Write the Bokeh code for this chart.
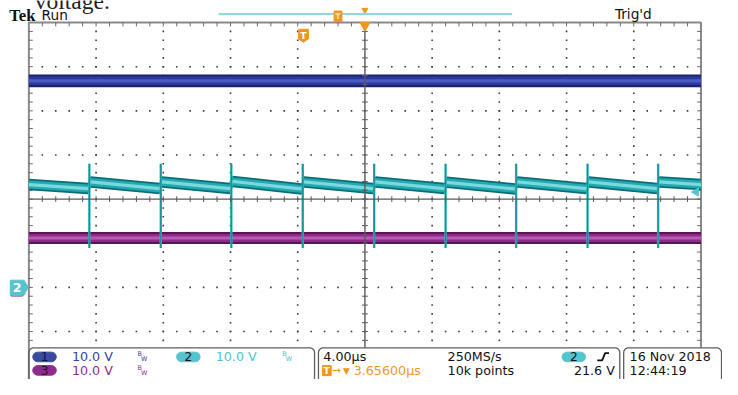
import numpy as np
from bokeh.plotting import figure
from bokeh.models import Range1d
from bokeh.core.properties import value
from bokeh.embed import file_html
from bokeh.resources import INLINE

# ---------------- data ----------------
time_per_div_us = 4.0
volts_per_div = 10.0
h_divs = 10
v_divs = 8
trigger_offset_us = 3.656          # "T -> 3.65600us"
trigger_level_v = 21.6

# CH2 (cyan): switching spikes + sawtooth ripple (volts)
ch2_ground_div = -2.0
ch2_spike_t_us = [-16.40, -12.15, -7.95, -3.70, 0.55, 4.80, 9.00, 13.25, 17.45]
ch2_after_v = [23.9, 23.9, 24.0, 23.9, 23.9, 23.8, 23.9, 23.9, 23.9]
ch2_before_v = [22.4, 22.4, 22.4, 22.3, 22.4, 22.4, 22.3, 22.4, 22.4]
ch2_left_edge_v = 23.3
ch2_right_edge_v = 23.3
ch2_spike_top_v = 28.0
ch2_spike_bottom_v = 8.9
ch2_half_band_v = 1.3

# CH1 (blue) and CH3 (purple): flat noisy bands (screen divisions)
ch1_level_div = 2.68
ch1_half_band_div = 0.145
ch3_level_div = -0.88
ch3_half_band_div = 0.135

# readouts
ch_scale_labels = ["10.0 V", "10.0 V", "10.0 V"]
timebase_label = "4.00µs"
sample_rate_label = "250MS/s"
record_label = "10k points"
trig_level_label = "21.6 V"
date_label = "16 Nov 2018"
time_label = "12:44:19"

# ---------------- layout helpers (screen pixel -> data) ----------------
W, H = 722, 379
IMG_W, IMG_H = 738, 395
GX_C = 372.5                 # graticule centre x (px)
PX_US = 68.7 / time_per_div_us
GY_C = 207.0                 # graticule centre y (px)
PX_DIV = 46.0
FS = W / IMG_W


def X(px):
    return (px - GX_C) / PX_US


def Y(py):
    return (GY_C - py) / PX_DIV


def v2d(v):
    return ch2_ground_div + v / volts_per_div


p = figure(width=W, height=H, x_range=Range1d(X(0), X(IMG_W)), y_range=Range1d(Y(IMG_H), Y(0)),
           output_backend="svg", toolbar_location=None, x_axis_type=None, y_axis_type=None,
           min_border=0, title=None, outline_line_color=None,
           background_fill_color="white", border_fill_color="white")


def txt(px, py, s, color, size, font="DejaVu Sans", style="normal", align="left"):
    # py is the visual vertical centre of the text
    p.text(x=[X(px)], y=[Y(py)], text=[s], text_color=color, text_font=value(font),
           text_font_size=value(f"{size * FS:.1f}px"), text_font_style=style,
           text_align=align, text_baseline="middle")


def stadium(x0, x1, y0, y1, n=10):
    r = (y1 - y0) / 2.0
    yc = (y0 + y1) / 2.0
    a1 = np.linspace(-np.pi / 2, np.pi / 2, n)
    a2 = np.linspace(np.pi / 2, 3 * np.pi / 2, n)
    xs = np.concatenate([x1 - r + r * np.cos(a1), x0 + r + r * np.cos(a2)])
    ys = np.concatenate([yc + r * np.sin(a1), yc + r * np.sin(a2)])
    return [X(v) for v in xs], [Y(v) for v in ys]


def panel(xl, xr, ytop, r=5, n=8):
    a1 = np.linspace(np.pi, 1.5 * np.pi, n)
    a2 = np.linspace(1.5 * np.pi, 2 * np.pi, n)
    xs = [xl] + list(xl + r + r * np.cos(a1)) + list(xr - r + r * np.cos(a2)) + [xr]
    ys = [IMG_H + 2] + list(ytop + r + r * np.sin(a1)) + list(ytop + r + r * np.sin(a2)) + [IMG_H + 2]
    p.line([X(v) for v in xs], [Y(v) for v in ys], line_color="#5f5f5f", line_width=1.3)


half_t = h_divs / 2 * time_per_div_us
top_d = v_divs / 2
bot_d = Y(362)
minor_t = time_per_div_us / 5
minor_d = 0.2

# ---------------- graticule dots ----------------
dx, dy = [], []
for k in range(-h_divs // 2 + 1, h_divs // 2):
    if k == 0:
        continue
    for j in range(-20, 20):
        yy = j * minor_d
        if yy > bot_d:
            dx.append(k * time_per_div_us)
            dy.append(yy)
for m in range(-v_divs // 2 + 1, v_divs // 2):
    if m == 0:
        continue
    for i in range(-24, 25):
        dx.append(i * minor_t)
        dy.append(m)
p.scatter(dx, dy, marker="square", size=1.6, fill_color="#3a3a3a", line_color=None)

# border + border ticks
p.line([-half_t, -half_t, half_t, half_t], [Y(IMG_H + 2), top_d, top_d, bot_d],
       line_color="#8a8a8a", line_width=2)
tl = 4.0
tx0, ty0, tx1, ty1 = [], [], [], []
for i in range(-24, 25):
    tx0.append(i * minor_t); ty0.append(top_d); tx1.append(i * minor_t); ty1.append(top_d - tl / PX_DIV)
for j in range(-16, 20):
    yy = j * minor_d
    tx0.append(-half_t); ty0.append(yy); tx1.append(-half_t + tl / PX_US); ty1.append(yy)
    tx0.append(half_t); ty0.append(yy); tx1.append(half_t - tl / PX_US); ty1.append(yy)
p.segment(tx0, ty0, tx1, ty1, line_color="#6a6a6a", line_width=1)

# ---------------- traces ----------------
# CH3 purple band
for hw, col in [(1.0, "#5e1158"), (0.66, "#8e2b88"), (0.25, "#b85cb1")]:
    p.varea(x=[-half_t, half_t], y1=[ch3_level_div - ch3_half_band_div * hw] * 2,
            y2=[ch3_level_div + ch3_half_band_div * hw] * 2, fill_color=col)
# CH1 blue band
for hw, col in [(1.0, "#1a2374"), (0.66, "#2d3b98"), (0.25, "#4a5ec0")]:
    p.varea(x=[-half_t, half_t], y1=[ch1_level_div - ch1_half_band_div * hw] * 2,
            y2=[ch1_level_div + ch1_half_band_div * hw] * 2, fill_color=col)

# CH2 sawtooth
d = 0.08
ts = [-half_t]
vs = [ch2_left_edge_v]
for i, s in enumerate(ch2_spike_t_us):
    ts += [s - d, s + d]
    vs += [ch2_before_v[i], ch2_after_v[i]]
ts += [half_t]
vs += [ch2_right_edge_v]
vs = np.array(vs)
for hw, col in [(1.0, "#0b6d73"), (0.7, "#23a9b1"), (0.28, "#7bd8dc")]:
    p.varea(x=ts, y1=list(v2d(vs - ch2_half_band_v * hw)), y2=list(v2d(vs + ch2_half_band_v * hw)),
            fill_color=col)
n_sp = len(ch2_spike_t_us)
p.segment(ch2_spike_t_us, [v2d(ch2_spike_bottom_v)] * n_sp, ch2_spike_t_us, [v2d(ch2_spike_top_v)] * n_sp,
          line_color="#2db4bb", line_width=2.4)
p.segment(ch2_spike_t_us, [v2d(ch2_spike_bottom_v)] * n_sp, ch2_spike_t_us, [v2d(ch2_spike_top_v)] * n_sp,
          line_color="#0f7d83", line_width=0.8)

# ---------------- centre cross ----------------
p.line([-half_t, half_t], [0, 0], line_color="#5a5a5a", line_width=1.4)
p.line([0, 0], [bot_d, top_d], line_color="#5a5a5a", line_width=1.4)
cx0, cy0, cx1, cy1 = [], [], [], []
ct = 3.0
for i in range(-24, 25):
    cx0.append(i * minor_t); cy0.append(-ct / PX_DIV); cx1.append(i * minor_t); cy1.append(ct / PX_DIV)
for j in range(-16, 20):
    cx0.append(-ct / PX_US); cy0.append(j * minor_d); cx1.append(ct / PX_US); cy1.append(j * minor_d)
p.segment(cx0, cy0, cx1, cy1, line_color="#5a5a5a", line_width=1)

# ---------------- markers ----------------
ORANGE = "#f0961e"
CYAN = "#55c4ce"
# trigger level marker (right edge)
p.scatter([X(711)], [v2d(trigger_level_v)], marker="triangle", angle=np.pi / 2, size=8,
          fill_color=CYAN, line_color=CYAN)
# expansion point markers
p.scatter([0], [Y(26)], marker="inverted_triangle", size=10, fill_color=ORANGE, line_color=ORANGE)
p.scatter([0], [Y(10)], marker="inverted_triangle", size=6, fill_color=ORANGE, line_color=ORANGE)
# record bar
p.line([X(223), X(523)], [Y(14), Y(14)], line_color="#8fd7de", line_width=2)
p.patch([X(341), X(349), X(349), X(341)], [Y(11), Y(11), Y(22), Y(22)], fill_color=ORANGE, line_color=ORANGE)
txt(345, 16.5, "T", "#ffe2b8", 8, style="bold", align="center")
# trigger position shield
tpx = GX_C - trigger_offset_us * PX_US
sx = [tpx - 5, tpx + 5, tpx + 5, tpx, tpx - 5]
sy = [30, 30, 40, 43.5, 40]
p.patch([X(v) for v in sx], [Y(v) for v in sy], fill_color=ORANGE, line_color=ORANGE)
txt(tpx, 36, "T", "white", 9.5, style="bold", align="center")
# CH2 ground marker (left)
gy = GY_C - ch2_ground_div * PX_DIV
p.line([X(11), X(11), X(22), X(25)], [Y(gy + 5), Y(gy + 9), Y(gy + 9), Y(gy + 6)],
       line_color="#b45fb0", line_width=1.5)
mx = [10, 24, 28.5, 24, 10]
my = [gy - 7.5, gy - 7.5, gy, gy + 7.5, gy + 7.5]
p.patch([X(v) for v in mx], [Y(v) for v in my], fill_color=CYAN, line_color=CYAN)
txt(17, gy, "2", "white", 13, style="bold", align="center")

# ---------------- header texts ----------------
txt(35, 0, "voltage.", "#222222", 24, font="Liberation Serif")
txt(9, 15.5, "Tek", "#111111", 17, font="Liberation Serif", style="bold")
txt(42, 15, "Run", "#111111", 14)
txt(628, 14.5, "Trig'd", "#111111", 14)

# ---------------- readout panels ----------------
panel(29, 321, 362)
panel(325, 633, 362)
panel(637, 737, 362)

R1, R2 = 371.5, 385.5
ch_cols = ["#3b4aa0", "#55c4ce", "#8e2b8e"]
ch_txt = ["#3a40a0", "#4cc4d0", "#8e2b8e"]
ch_num_col = ["#0c1552", "#111111", "#2e0a2e"]
pills = [(33, 57, R1, "1", 0), (33, 57, R2, "3", 2), (180, 204, R1, "2", 1), (574, 598, R1, "2", 1)]
for x0, x1, yc, lab, c in pills:
    xs, ys = stadium(x0, x1, yc - 5, yc + 5)
    p.patch(xs, ys, fill_color=ch_cols[c], line_color=ch_cols[c])
    txt((x0 + x1) / 2, yc, lab, ch_num_col[c], 12.5, align="center")

for (px, py, c) in [(73, R1, 0), (220, R1, 1), (73, R2, 2)]:
    txt(px, py, ch_scale_labels[c], ch_txt[c], 13)
for (px, py, c) in [(140, R1, 0), (288, R1, 1), (140, R2, 2)]:
    txt(px, py - 2.8, "B", ch_txt[c], 6.5)
    txt(px + 3.5, py + 2.6, "W", ch_txt[c], 6.5)

txt(330, R1, timebase_label, "#111111", 13)
txt(457, R1, sample_rate_label, "#111111", 13)
txt(457, R2, record_label, "#111111", 13)
txt(628, R2, trig_level_label, "#111111", 13, align="right")
# rising-edge symbol
p.line([X(610), X(615), X(618), X(622)], [Y(375), Y(375), Y(367.5), Y(367.5)],
       line_color="#111111", line_width=1.8)
# trigger position readout
p.patch([X(329), X(338), X(338), X(329)], [Y(380.5), Y(380.5), Y(391), Y(391)],
        fill_color=ORANGE, line_color=ORANGE)
txt(333.5, 385.5, "T", "white", 9.5, style="bold", align="center")
txt(338.5, R2, "→", ORANGE, 11)
txt(350, R2 + 0.5, "▼", ORANGE, 9)
txt(361, R2, f"{trigger_offset_us:.5f}µs", ORANGE, 13)

txt(643, R1, date_label, "#111111", 13)
txt(643, R2, time_label, "#111111", 13)

open("out.html", "w").write(file_html(p, INLINE))
